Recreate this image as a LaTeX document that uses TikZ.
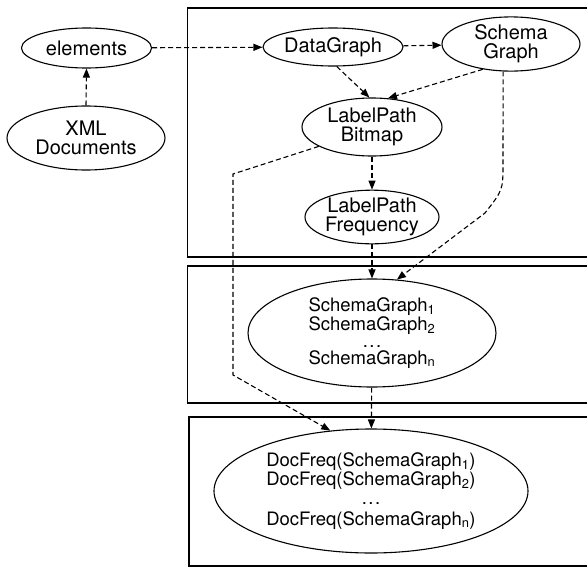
\documentclass[tikz,border=0pt]{standalone}
\usepackage{fontspec}
\setmainfont{TeX Gyre Heros}
\usetikzlibrary{shapes.geometric,arrows.meta}
\tikzset{
  ell/.style={draw, ellipse, line width=1.1pt, inner sep=0pt, align=center,
    font=\fontsize{20}{19}\selectfont},
  lst/.style={ell, font=\fontsize{18.5}{16}\selectfont},
  flow/.style={line width=1.1pt, dash pattern=on 5pt off 3pt,
    -{Triangle[length=9pt,width=7pt]}},
  frame/.style={line width=1.6pt}
}
\newcommand{\mydots}{.\kern1.5pt.\kern1.5pt.}
\begin{document}
\begin{tikzpicture}[x=1pt,y=-1pt]
\useasboundingbox (0,0) rectangle (587,568);
% frames (open on the right)
\draw[frame] (587,8) -- (187.5,8) -- (187.5,257) -- (587,257);
\draw[frame] (587,266) -- (187.5,266) -- (187.5,403) -- (587,403);
\draw[frame] (587,417) -- (189,417) -- (189,566) -- (587,566);
% nodes
\node[ell, minimum width=130pt, minimum height=40pt] (el) at (86.5,48) {elements};
\node[ell, minimum width=158pt, minimum height=64pt] (xml) at (86,138) {XML\\Documents};
\node[ell, minimum width=140pt, minimum height=38pt] (dg) at (333,47) {DataGraph};
\node[ell, minimum width=138pt, minimum height=54pt] (sg) at (511,44) {Schema\\Graph};
\node[ell, minimum width=140pt, minimum height=58pt] (lpb) at (372,127) {LabelPath\\Bitmap};
\node[ell, minimum width=134pt, minimum height=50pt] (lpf) at (372,217) {LabelPath\\Frequency};
\node[lst, minimum width=248pt, minimum height=108pt] (sgs) at (372,333)
  {SchemaGraph\textsubscript{1}\\SchemaGraph\textsubscript{2}\\[1pt]\mydots\\[1pt]SchemaGraph\textsubscript{n}};
\node[lst, minimum width=314pt, minimum height=124pt] (df) at (371,491)
  {DocFreq(SchemaGraph\textsubscript{1})\\DocFreq(SchemaGraph\textsubscript{2})\\[3pt]\mydots\\[5pt]DocFreq(SchemaGraph\textsubscript{n})};
% bend points
\coordinate (a1) at (503,163);
\coordinate (a2) at (485,213);
\coordinate (b1) at (233,174);
\coordinate (b2) at (233,375);
% connectors
\draw[flow] (xml.north) -- (el.south);
\draw[flow] (el) -- (dg);
\draw[flow] (dg) -- (sg);
\draw[flow] (dg.-79) -- (lpb.95);
\draw[flow] (sg.-138) -- (lpb.61);
\draw[flow] (lpb) -- (lpf);
\draw[flow] (lpf) -- (sgs);
\draw[flow] (sgs) -- (df);
\draw[flow] (sg.-106) -- (a1) .. controls (503,190) .. (a2) -- (sgs.65);
\draw[flow] (lpb.-160) -- (b1) -- (b2) -- (df.124);
\end{tikzpicture}
\end{document}
